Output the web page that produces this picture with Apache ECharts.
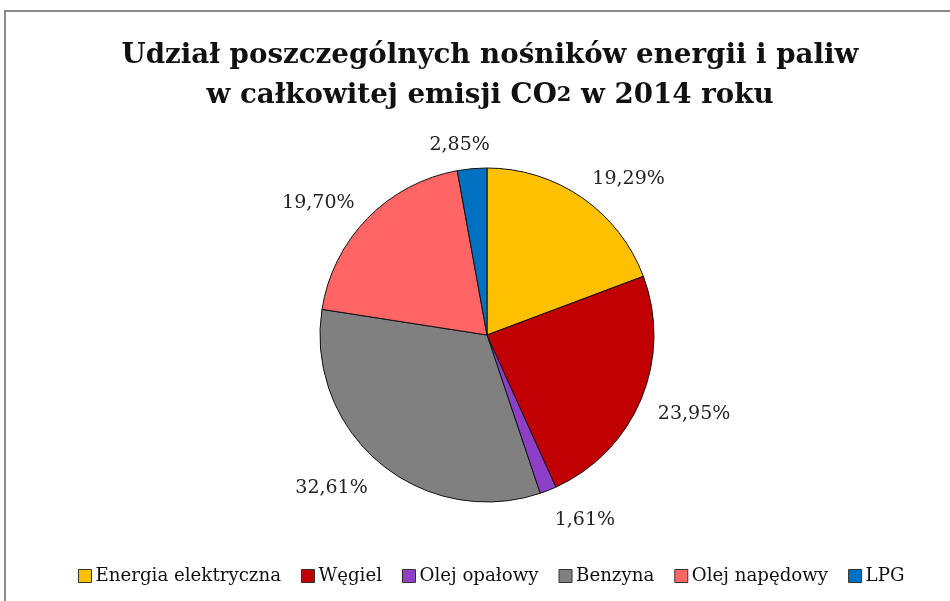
<!DOCTYPE html>
<html>
<head>
<meta charset="utf-8">
<script src="https://cdn.jsdelivr.net/npm/echarts@6/dist/echarts.min.js"></script>
<style>
  html, body { margin: 0; padding: 0; background: #fff; overflow: hidden; }
  #frame {
    position: absolute; left: 4px; top: 10px;
    width: 1000px; height: 700px;
    border: 2px solid #8a8a8a;
  }
  #chart { position: absolute; left: 0; top: 0; width: 950px; height: 601px; }
</style>
</head>
<body>
<div id="frame"></div>
<div id="chart"></div>
<script>
// dane z wykresu
const categories = ['Energia elektryczna', 'Węgiel', 'Olej opałowy', 'Benzyna', 'Olej napędowy', 'LPG'];
const shares = [19.29, 23.95, 1.61, 32.61, 19.70, 2.85];
const colors = ['#FFC000', '#C00000', '#8E3FC8', '#808080', '#FF6565', '#0070C0'];

const CX = 487, CY = 335, R = 167;
const total = shares.reduce((a, b) => a + b, 0);
const starts = [];
shares.reduce((acc, v, i) => { starts[i] = acc; return acc + v; }, 0);

const chart = echarts.init(document.getElementById('chart'));

const font = '"DejaVu Serif", serif';

// etykiety jak w Excelu: środek etykiety na promieniu, odsunięty o pół ramki
function placeLabel(params) {
  const i = params.dataIndex;
  const mid = (starts[i] + shares[i] / 2) / total * Math.PI * 2;
  const s = Math.sin(mid), c = Math.cos(mid);
  const w = params.labelRect.width, h = params.labelRect.height;
  const r = R + 18;
  return {
    x: CX + s * r + Math.sign(s) * w / 2 * Math.min(1, 4 * Math.abs(s)),
    y: CY - c * r - c * h / 2 + 4,
    align: 'center',
    verticalAlign: 'middle'
  };
}

const option = {
  animation: false,
  title: {
    text: 'Udział poszczególnych nośników energii i paliw\nw całkowitej emisji CO{s|2} w 2014 roku',
    left: 485,
    textAlign: 'center',
    top: 31,
    textStyle: {
      fontFamily: font,
      fontWeight: 'bold',
      fontSize: 27.7,
      color: '#111',
      lineHeight: 40,
      rich: {
        s: { fontFamily: font, fontWeight: 'bold', fontSize: 21, color: '#111', lineHeight: 40 }
      }
    }
  },
  legend: {
    bottom: 11,
    left: 73,
    itemWidth: 13,
    itemHeight: 13,
    itemGap: 20,
    icon: 'rect',
    textStyle: { fontFamily: font, fontSize: 18.2, color: '#111', padding: [0, 0, 0, -1] },
    itemStyle: { borderColor: '#333', borderWidth: 1 },
    data: categories
  },
  series: [
    {
      type: 'pie',
      center: [CX, CY],
      radius: R,
      startAngle: 90,
      clockwise: true,
      color: colors,
      itemStyle: { borderColor: '#111', borderWidth: 1 },
      label: {
        show: true,
        position: 'outside',
        fontFamily: font,
        fontSize: 19,
        color: '#222',
        formatter: p => shares[p.dataIndex].toFixed(2).replace('.', ',') + '%'
      },
      labelLine: { show: false },
      labelLayout: placeLabel,
      emphasis: { disabled: true },
      data: categories.map((c, i) => ({ name: c, value: shares[i] }))
    }
  ]
};

chart.setOption(option);
</script>
</body>
</html>
